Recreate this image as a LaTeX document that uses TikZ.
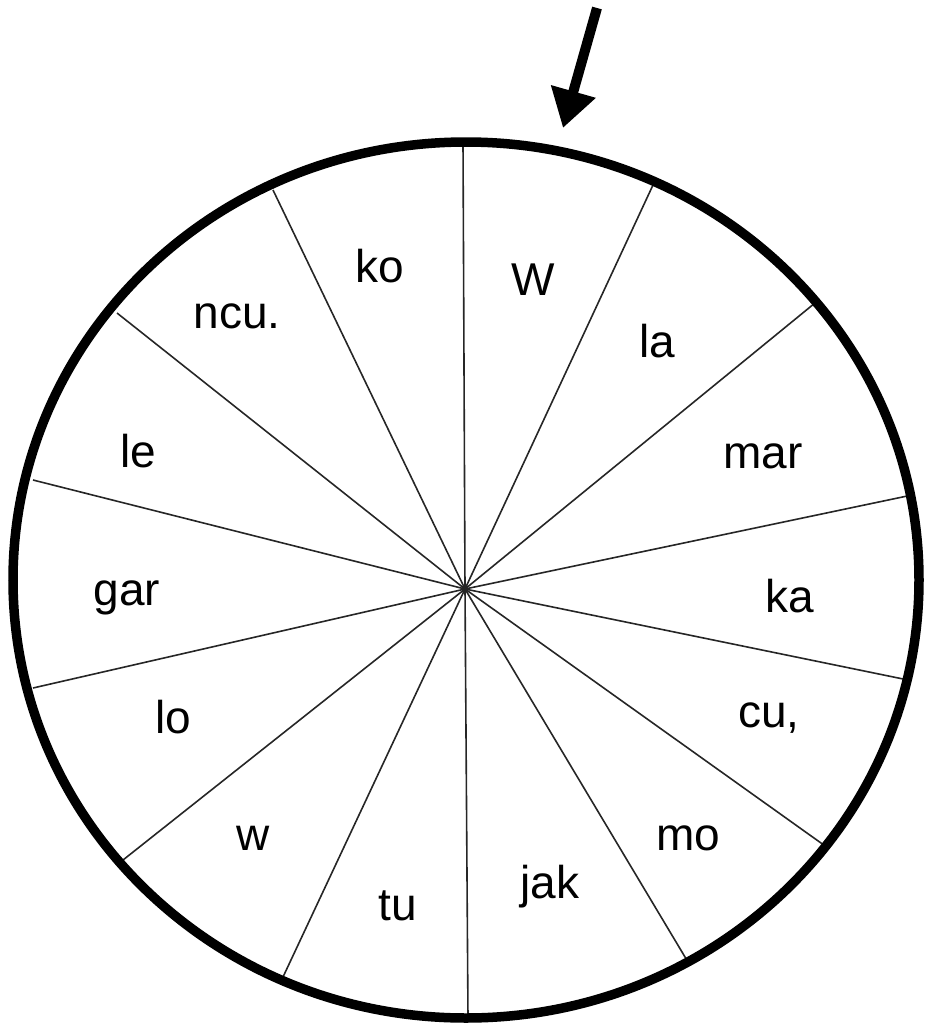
\documentclass[tikz,border=0pt]{standalone}
\usepackage{fontspec}
\setmainfont{Liberation Sans}
\usetikzlibrary{arrows.meta}
\begin{document}
\begin{tikzpicture}[x=1pt,y=-1pt,
  spoke/.style={line width=1.6pt,draw=black!85},
  rim/.style={line width=9.5pt,draw=black},
  lbl/.style={anchor=base,inner sep=0pt,font=\fontsize{46}{50}\selectfont},
  pointer/.style={line width=10pt,-{Triangle[width=44pt,length=38pt]}}]
\useasboundingbox (0,0) rectangle (924,1023);
\coordinate (hub) at (465,589);
\coordinate (p0) at (463,142);
\coordinate (p1) at (653,185);
\coordinate (p2) at (815,303);
\coordinate (p3) at (912,495);
\coordinate (p4) at (908,680);
\coordinate (p5) at (828,848);
\coordinate (p6) at (688,962);
\coordinate (p7) at (468,1018);
\coordinate (p8) at (283,977);
\coordinate (p9) at (123,860);
\coordinate (p10) at (33,688);
\coordinate (p11) at (33,480);
\coordinate (p12) at (117,313);
\coordinate (p13) at (273,190);
\foreach \i in {0,...,13} { \draw[spoke] (hub) -- (p\i); }
\draw[rim] (466,580) ellipse [x radius=453pt, y radius=438pt];
\coordinate (arrS) at (597,8);
\coordinate (arrE) at (563,128);
\draw[pointer] (arrS) -- (arrE);
\node[lbl] (tko) at (380,282) {ko};
\node[lbl] (tW) at (533,295) {W};
\node[lbl] (tncu) at (237,328) {ncu.};
\node[lbl] (tla) at (657,357) {la};
\node[lbl] (tle) at (138,467) {le};
\node[lbl] (tmar) at (763,468) {mar};
\node[lbl] (tgar) at (127,605) {gar};
\node[lbl] (tka) at (790,612) {ka};
\node[lbl] (tcu) at (769,727) {cu,};
\node[lbl] (tlo) at (173,733) {lo};
\node[lbl] (tw) at (253,850) {w};
\node[lbl] (tmo) at (688,850) {mo};
\node[lbl] (ttu) at (398,920) {tu};
\node[lbl] (tjak) at (550,898) {jak};
\end{tikzpicture}
\end{document}
